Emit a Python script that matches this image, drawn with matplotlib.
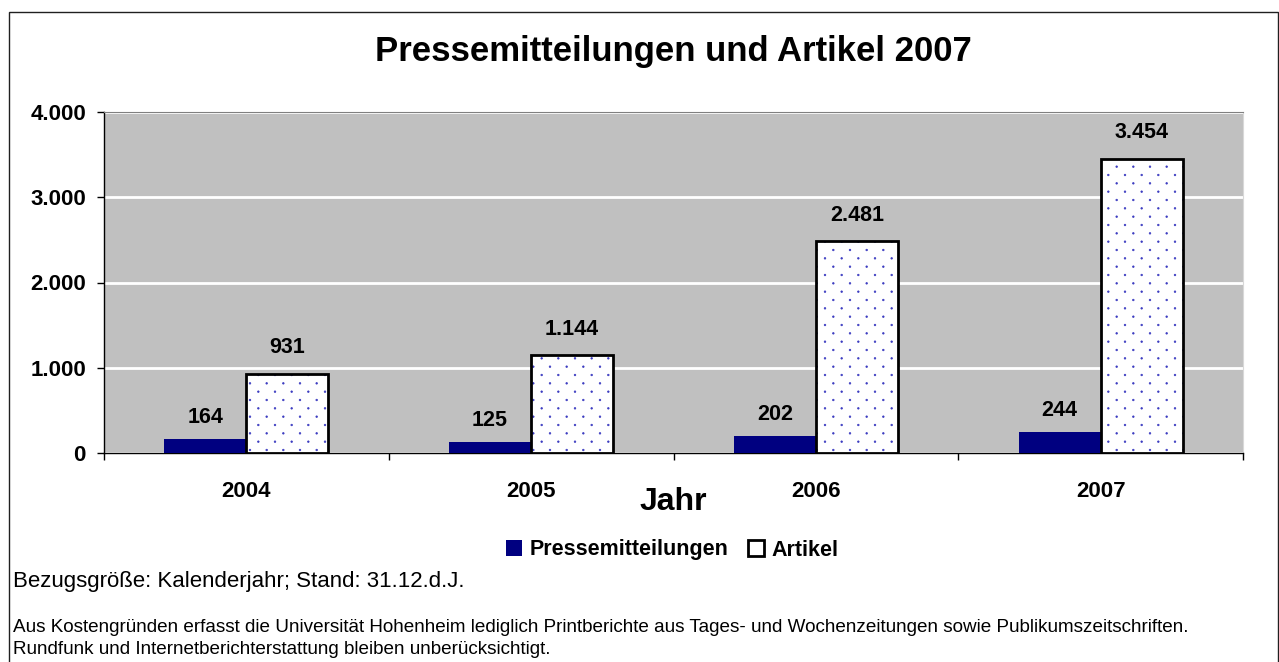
import matplotlib
matplotlib.use("Agg")
import matplotlib.pyplot as plt
import matplotlib.hatch as mhatch
from matplotlib.path import Path
from matplotlib.ticker import FuncFormatter, FixedLocator
from matplotlib.patches import Rectangle
import numpy as np

plt.rcParams['font.family'] = ['Liberation Sans', 'DejaVu Sans']
plt.rcParams['hatch.linewidth'] = 0.5

# ---- data ----
years = ["2004", "2005", "2006", "2007"]
pressemitteilungen = [164, 125, 202, 244]
artikel = [931, 1144, 2481, 3454]
series_names = ["Pressemitteilungen", "Artikel"]
yticks = [0, 1000, 2000, 3000, 4000]
title = "Pressemitteilungen und Artikel 2007"
xlabel = "Jahr"
note1 = "Bezugsgröße: Kalenderjahr; Stand: 31.12.d.J."
note2 = ("Aus Kostengründen erfasst die Universität Hohenheim lediglich Printberichte aus "
         "Tages- und Wochenzeitungen sowie Publikumszeitschriften.")
note3 = "Rundfunk und Internetberichterstattung bleiben unberücksichtigt."


# ---- custom dotted hatch (staggered, Excel-like "small dots") ----
class _StaggeredDots(mhatch.HatchPatternBase):
    radius = 0.008

    def __init__(self, hatch, density):
        self.n = hatch.count('.') * density
        circ = Path.unit_circle()
        self.shape_vertices = circ.vertices
        self.shape_codes = circ.codes
        if self.n == 0:
            self.num_vertices = 0
        else:
            n = self.n
            self.num_shapes = (n + 1) * (n + 1) + n * n
            self.num_vertices = self.num_shapes * len(self.shape_vertices)

    def set_vertices_and_codes(self, vertices, codes):
        n = self.n
        sv = self.shape_vertices * self.radius
        vparts, cparts = [], []
        for k in range(2 * n + 1):
            y = k / (2 * n)
            if k % 2 == 0:
                cols = np.arange(n + 1) / n
            else:
                cols = (np.arange(n) + 0.5) / n
            for c in cols:
                vparts.append(sv + [c, y])
                cparts.append(self.shape_codes)
        np.concatenate(vparts, out=vertices)
        np.concatenate(cparts, out=codes)


try:
    mhatch._hatch_types = [(_StaggeredDots if t is mhatch.SmallFilledCircles else t)
                           for t in mhatch._hatch_types]
    _dot_hatch = "."
except Exception:
    _dot_hatch = ".."

W, H = 1279, 662
fig = plt.figure(figsize=(W / 100, H / 100), dpi=100)
fig.patch.set_facecolor("white")


def fx(px):
    return px / W


def fy(py):
    return 1 - py / H


# outer frame
fig.patches.append(Rectangle((fx(9), fy(700)), fx(1278) - fx(9), fy(12) - fy(700),
                             transform=fig.transFigure, fill=False,
                             edgecolor="#202020", linewidth=1.0, zorder=0))

ax = fig.add_axes([fx(104), fy(453), fx(1243) - fx(104), fy(112) - fy(453)])
ax.set_facecolor("#C0C0C0")

fmt = lambda v: f"{v:,.0f}".replace(",", ".")

x = np.arange(len(years))
bw = 0.288
bp = ax.bar(x - bw / 2, pressemitteilungen, bw, color="#000080", linewidth=0, zorder=3)
ax.bar(x + bw / 2, artikel, bw, color="white", hatch=_dot_hatch, edgecolor="#3a3ac0",
       linewidth=0, zorder=3)
ba = ax.bar(x + bw / 2, artikel, bw, fill=False, edgecolor="black", linewidth=2, zorder=4)

lab_font = dict(fontsize=15.5, fontweight="bold")
ax.bar_label(bp, labels=[fmt(v) for v in pressemitteilungen], padding=8, **lab_font)
ax.bar_label(ba, labels=[fmt(v) for v in artikel], padding=11, **lab_font)

ax.set_xlim(-0.5, len(years) - 0.5)
ax.set_ylim(yticks[0], yticks[-1])
ax.set_yticks(yticks)
ax.yaxis.set_major_formatter(FuncFormatter(lambda v, p: fmt(v)))
ax.tick_params(axis="y", direction="out", length=5, width=1, pad=8,
               labelsize=16)
for t in ax.get_yticklabels():
    t.set_fontweight("bold")

ax.set_xticks(x)
ax.set_xticklabels(years, fontsize=16, fontweight="bold")
ax.tick_params(axis="x", which="major", length=0, pad=20)
ax.xaxis.set_minor_locator(FixedLocator(np.arange(len(years) + 1) - 0.5))
ax.tick_params(axis="x", which="minor", direction="out", length=5, width=1)

ax.grid(axis="y", color="white", linewidth=2, zorder=1)
ax.set_axisbelow(True)
for s in ["left", "bottom"]:
    ax.spines[s].set_color("black")
    ax.spines[s].set_linewidth(1)
ax.spines["top"].set_color("#808080")
ax.spines["right"].set_color("#d8d8d8")

ax.set_xlabel(xlabel, fontsize=23, fontweight="bold")
ax.xaxis.set_label_coords(0.5, -0.10)

fig.text(fx(673), fy(52), title, ha="center", va="center", fontsize=25, fontweight="bold")

fig.legend([bp, ba], series_names, loc="center", bbox_to_anchor=(fx(672), fy(550)),
           ncol=2, frameon=False, handlelength=0.75, handleheight=0.75,
           handletextpad=0.35, columnspacing=0.9,
           prop=dict(size=15.5, weight="bold"))

fig.text(fx(13), fy(581), note1, ha="left", va="center", fontsize=16)
fig.text(fx(13), fy(628), note2, ha="left", va="center", fontsize=13.6)
fig.text(fx(13), fy(650), note3, ha="left", va="center", fontsize=13.6)

fig.savefig("out.png", dpi=100)
